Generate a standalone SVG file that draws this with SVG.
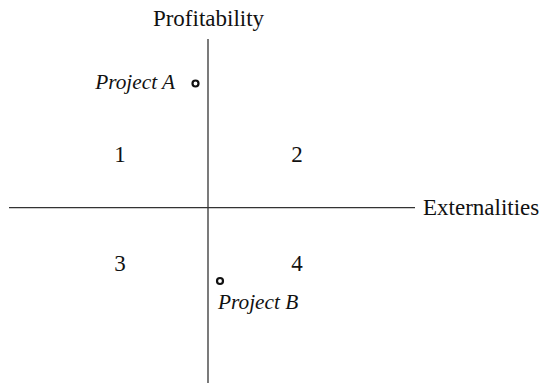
<svg xmlns="http://www.w3.org/2000/svg" width="541" height="386" viewBox="0 0 541 386">
<style>
.ax{stroke:#333;stroke-width:1.3;fill:none}
.t{font-family:"Liberation Serif","Times New Roman",serif;font-size:23px;fill:#111}
.it{font-style:italic;font-size:21.3px}
.pt{fill:none;stroke:#111;stroke-width:2.2}
</style>
<rect width="541" height="386" fill="#fff"/>
<g id="connectors">
<line class="ax" x1="208" y1="39" x2="208" y2="383"/>
<line class="ax" x1="9" y1="207.7" x2="415" y2="207.7"/>
</g>
<g id="label-profitability"><text class="t" x="208.5" y="26" text-anchor="middle">Profitability</text></g>
<g id="label-externalities"><text class="t" x="423" y="215">Externalities</text></g>
<g id="quadrant-1"><text class="t" x="120" y="162" text-anchor="middle">1</text></g>
<g id="quadrant-2"><text class="t" x="297" y="162" text-anchor="middle">2</text></g>
<g id="quadrant-3"><text class="t" x="120" y="271" text-anchor="middle">3</text></g>
<g id="quadrant-4"><text class="t" x="297" y="271" text-anchor="middle">4</text></g>
<g id="project-a">
<circle class="pt" cx="195.5" cy="83.5" r="3"/>
<text class="t it" x="175" y="89" text-anchor="end">Project A</text>
</g>
<g id="project-b">
<circle class="pt" cx="220" cy="281" r="3"/>
<text class="t it" x="218" y="309">Project B</text>
</g>
</svg>
